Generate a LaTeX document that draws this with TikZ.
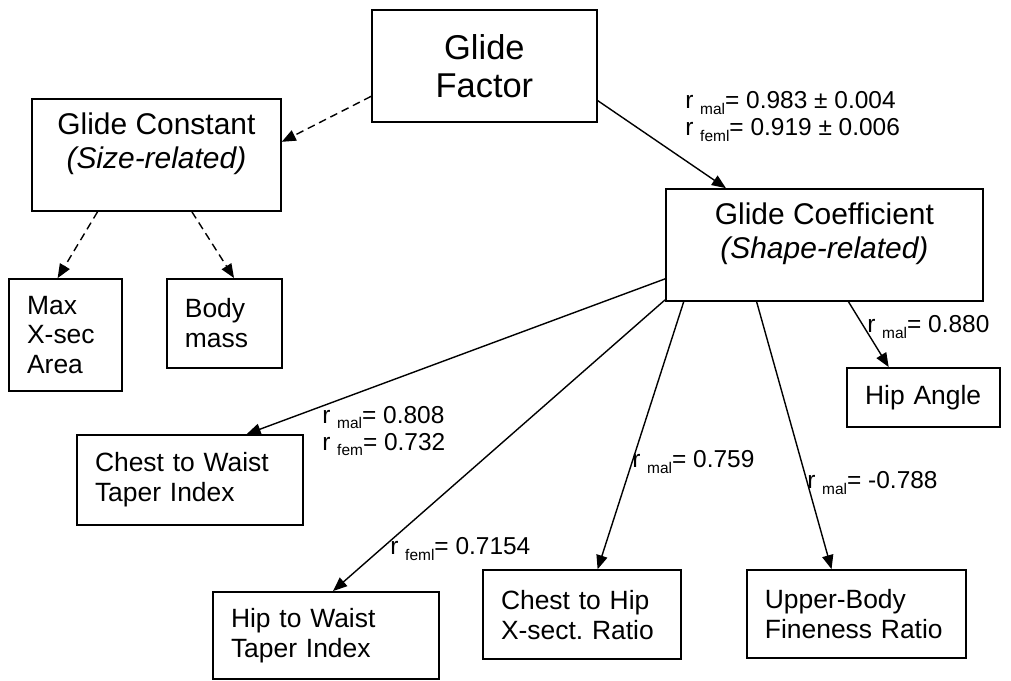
\documentclass[tikz,border=0pt]{standalone}
\usepackage{fontspec}
\setmainfont{Liberation Sans}
\usetikzlibrary{arrows.meta}
\frenchspacing
\newcommand{\rsub}[1]{r \raisebox{-0.45ex}{\fontsize{11}{11}\selectfont #1}}

\begin{document}
\begin{tikzpicture}
	[
	scale=1.0,
	box/.style={rectangle, draw=black, line width=1.2pt, fill=white, inner xsep=0.45cm, inner ysep=0pt, align=left, font=\fontsize{18.8}{21.3}\selectfont},
	mainbox/.style={box, align=center, font=\fontsize{21.3}{24.5}\selectfont},
	rootbox/.style={box, align=center, font=\fontsize{24.5}{27}\selectfont},
	rlabel/.style={anchor=west, inner sep=0pt, align=left, font=\fontsize{17.4}{19.2}\selectfont},
	link/.style={-{Triangle[length=10pt, width=8pt]}, line width=1pt},
	dlink/.style={link, dash pattern=on 5.5pt off 3.5pt}
	]
		\useasboundingbox (0, 0) rectangle (25.275, 17.025);

		% top
		\node (factor) [rootbox, minimum width=5.625cm, minimum height=2.8cm] at (12.11, 15.375) {Glide\\Factor};

		% size side
		\node (const) [mainbox, minimum width=6.225cm, minimum height=2.8cm] at (3.91, 13.15) {Glide Constant\\\textit{(Size-related)}\\[-0.4cm]\strut};
		\node (maxx) [box, text width=1.925cm, minimum height=2.8cm] at (1.64, 8.65) {Max\\X-sec\\Area};
		\node (mass) [box, text width=1.975cm, minimum height=2.225cm] at (5.61, 8.94) {Body\\mass};

		% shape side
		\node (coef) [mainbox, minimum width=7.925cm, minimum height=2.8cm] at (20.61, 10.9) {Glide Coefficient\\\textit{(Shape-related)}\\[-0.4cm]\strut};
		\node (angle) [box, text width=2.925cm, minimum height=1.475cm] at (23.09, 7.09) {Hip Angle};
		\node (cwti) [box, text width=4.75cm, minimum height=2.25cm] at (4.75, 5.025) {Chest to Waist\\Taper Index};
		\node (hwti) [box, text width=4.75cm, minimum height=2.175cm] at (8.15, 1.14) {Hip to Waist\\Taper Index};
		\node (chxr) [box, text width=4.05cm, minimum height=2.225cm] at (14.55, 1.66) {Chest to Hip\\X-sect. Ratio};
		\node (ubfr) [box, text width=4.575cm, minimum height=2.2cm] at (21.41, 1.675) {Upper-Body\\Fineness Ratio};

		% correlations
		\node (rcoef) [rlabel] at (17.125, 14.11) {\rsub{mal}= 0.983 ± 0.004\\\rsub{feml}= 0.919 ± 0.006};
		\node (rangle) [rlabel] at (21.675, 8.85) {\rsub{mal}= 0.880};
		\node (rcwti) [rlabel] at (8.05, 6.25) {\rsub{mal}= 0.808\\\rsub{fem}= 0.732};
		\node (rhwti) [rlabel] at (9.75, 3.3) {\rsub{feml}= 0.7154};
		\node (rchxr) [rlabel] at (15.8, 5.475) {\rsub{mal}= 0.759};
		\node (rubfr) [rlabel] at (20.175, 4.95) {\rsub{mal}= -0.788};

		% drawing code
		\foreach \from/\to in {factor.195/const.6, const.224/maxx.98, const.302/mass.78} \draw [dlink] (\from) -- (\to);
		\foreach \from/\to in {factor.343/coef.150, coef.192/cwti.39, coef.199/hwti.81, coef.202/chxr.71, coef.220/ubfr.119, coef.293/angle.139} \draw [link] (\from) -- (\to);
	\end{tikzpicture}
\end{document}
